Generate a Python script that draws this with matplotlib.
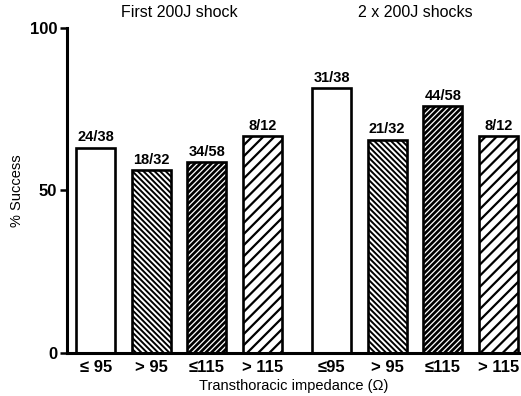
import numpy as np
import matplotlib
matplotlib.use('Agg')
import matplotlib.pyplot as plt

plt.rcParams['font.family'] = ['Liberation Sans', 'DejaVu Sans']

# data
groups = ['First 200J shock', '2 x 200J shocks']
cats = ['≤ 95', '> 95', '≤115', '> 115']
cats2 = ['≤95', '> 95', '≤115', '> 115']
success = [24, 18, 34, 8, 31, 21, 44, 8]
total = [38, 32, 58, 12, 38, 32, 58, 12]
pct = [100.0 * s / t for s, t in zip(success, total)]

pos = [0, 1, 2, 3, 4.25, 5.25, 6.25, 7.25]
# face colour, hatch, hatch colour, hatch width per category
styles = [
    ('white', '', 'black', 1.0),
    ('white', '\\\\\\\\\\\\', 'black', 1.4),
    ('black', '//////', 'white', 0.9),
    ('white', '///', 'black', 1.6),
]

fig = plt.figure(figsize=(5.21, 3.96), dpi=100)
ax = fig.add_axes([0.1286, 0.1086, 0.8714, 0.8207])

for i in range(8):
    fc, h, hc, hw = styles[i % 4]
    b = ax.bar(pos[i], pct[i], width=0.7, facecolor=fc, edgecolor=hc,
               hatch=h, linewidth=0, zorder=2)
    for p in b:
        try:
            p.set_hatch_linewidth(hw)
        except AttributeError:
            plt.rcParams['hatch.linewidth'] = hw
    ax.bar(pos[i], pct[i], width=0.7, fill=False, edgecolor='black',
           linewidth=1.9, zorder=3)
    ax.text(pos[i], pct[i] + 1.0, '%d/%d' % (success[i], total[i]),
            ha='center', va='bottom', fontsize=10.5, fontweight='bold')

ax.set_xlim(-0.52, 7.66)
ax.set_ylim(0, 100)
ax.set_yticks([0, 50, 100])
ax.set_yticklabels(['0', '50', '100'], fontsize=12, fontweight='bold')
ax.set_xticks(pos)
ax.set_xticklabels(cats + cats2, fontsize=12, fontweight='bold')
ax.tick_params(axis='x', length=0, pad=5)
ax.tick_params(axis='y', length=5, width=1.8, direction='out', pad=2)
for s in ['top', 'right']:
    ax.spines[s].set_visible(False)
ax.spines['left'].set_linewidth(2.2)
ax.spines['bottom'].set_linewidth(2.2)

ax.set_ylabel('% Success', fontsize=10.5, labelpad=4)
ax.set_xlabel('Transthoracic impedance (Ω)', fontsize=10.5, labelpad=3)

ax.text(1.5, 102.5, groups[0], ha='center', va='bottom', fontsize=11.5, clip_on=False)
ax.text(5.75, 102.5, groups[1], ha='center', va='bottom', fontsize=11.5, clip_on=False)

fig.savefig('out.png', dpi=100)
